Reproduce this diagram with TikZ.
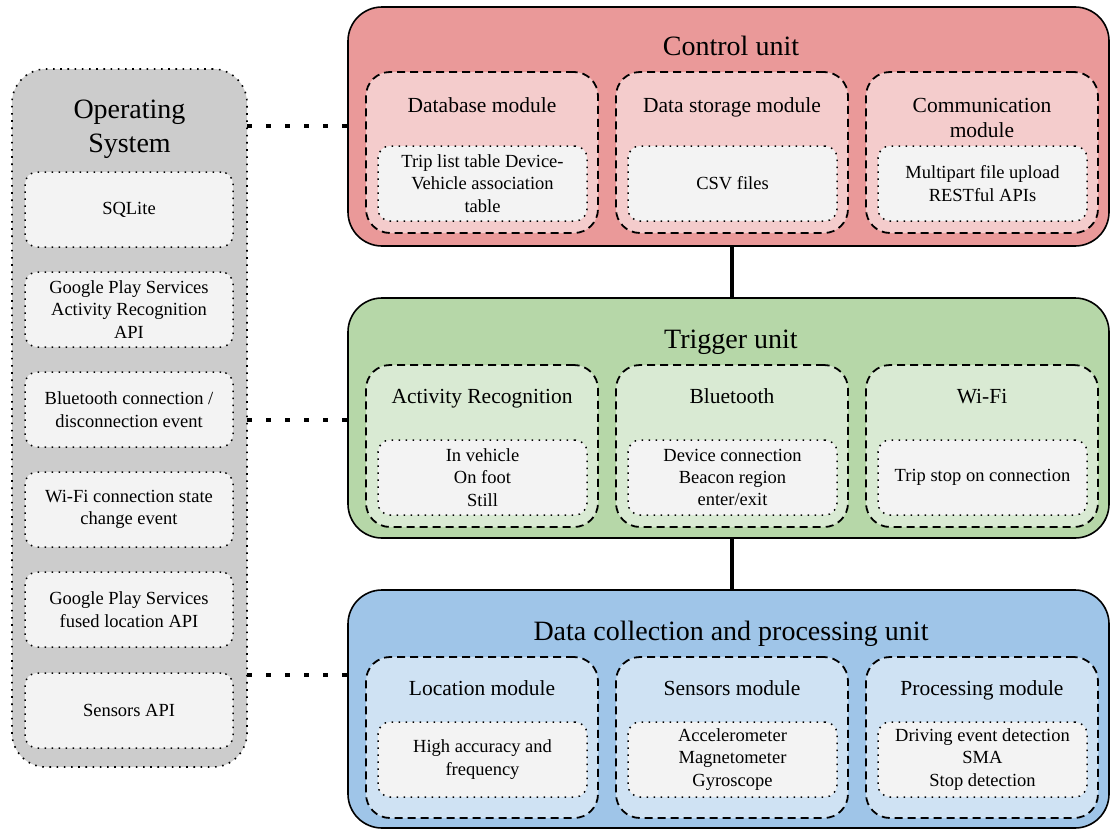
\documentclass[tikz,border=0pt]{standalone}
\usepackage{fontspec}
\setmainfont{Liberation Serif}
\definecolor{ctrlfill}{HTML}{EA9999}
\definecolor{ctrlmod}{HTML}{F4CCCC}
\definecolor{trigfill}{HTML}{B6D7A8}
\definecolor{trigmod}{HTML}{D9EAD3}
\definecolor{datafill}{HTML}{9FC5E8}
\definecolor{datamod}{HTML}{CFE2F3}
\definecolor{osfill}{HTML}{CCCCCC}
\definecolor{itemfill}{HTML}{F3F3F3}
\tikzset{
  box/.style={rectangle, inner sep=0pt, outer sep=0pt, anchor=north west},
  wh/.style 2 args={minimum width=#1pt, minimum height=#2pt},
  unitbox/.style={box, draw=black, line width=1.6pt, rounded corners=34pt},
  osbox/.style={box, draw=black, fill=osfill, line width=1.6pt,
    dash pattern=on 1.6pt off 5.6pt, rounded corners=34pt},
  modbox/.style={box, draw=black, line width=1.8pt,
    dash pattern=on 8pt off 5pt, rounded corners=24pt},
  itembox/.style={box, draw=black, fill=itemfill, line width=1.5pt,
    dash pattern=on 1.5pt off 5.5pt, rounded corners=12pt},
  unittitle/.style={inner sep=0pt, anchor=base, align=center,
    font=\fontsize{28}{34}\selectfont},
  modtitle/.style={inner sep=0pt, anchor=base, align=center,
    font=\fontsize{21.5}{25}\selectfont},
  itemtext/.style={inner sep=0pt, align=center,
    font=\fontsize{18.5}{22.4}\selectfont},
  vlink/.style={draw=black, line width=4pt},
  dotlink/.style={draw=black, line width=4.5pt, dash pattern=on 4.5pt off 14.5pt},
}
\begin{document}
\begin{tikzpicture}[x=1pt, y=-1pt]
\useasboundingbox (0,0) rectangle (1111,830);

% ---------- Operating system column ----------
% (a multi-line node's base anchor sits on its last line)
\node[osbox, wh={235}{698}] (os) at (12,69) {};
\node[unittitle] (ost) at (129.5,152) {Operating\\System};
\node[itembox, wh={208}{75}] (sql) at (25,172) {};
\node[itemtext] (sqlt) at (sql.center) {SQLite};
\node[itembox, wh={208}{75}] (gar) at (25,272) {};
\node[itemtext] (gart) at (gar.center) {Google Play Services\\Activity Recognition\\API};
\node[itembox, wh={208}{75}] (btev) at (25,372) {};
\node[itemtext] (btevt) at (btev.center) {Bluetooth connection /\\disconnection event};
\node[itembox, wh={208}{75}] (wfev) at (25,472) {};
\node[itemtext] (wfevt) at (wfev.center) {Wi-Fi connection state\\change event};
\node[itembox, wh={208}{75}] (gfl) at (25,572) {};
\node[itemtext] (gflt) at (gfl.center) {Google Play Services\\fused location API};
\node[itembox, wh={208}{75}] (sapi) at (25,673) {};
\node[itemtext] (sapit) at (sapi.center) {Sensors API};

% ---------- Control unit ----------
\node[unitbox, fill=ctrlfill, wh={761}{239}] (cu) at (348,7) {};
\node[unittitle] (cut) at (731,55) {Control unit};
\node[modbox, fill=ctrlmod, wh={232}{161}] (db) at (366,72) {};
\node[modtitle] (dbt) at (482,112) {Database module};
\node[itembox, wh={209}{75}] (dbi) at (378,146) {};
\node[itemtext] (dbit) at (dbi.center) {Trip list table Device-\\Vehicle association\\table};
\node[modbox, fill=ctrlmod, wh={232}{161}] (ds) at (616,72) {};
\node[modtitle] (dst) at (732,112) {Data storage module};
\node[itembox, wh={209}{75}] (dsi) at (628,146) {};
\node[itemtext] (dsit) at (dsi.center) {CSV files};
\node[modbox, fill=ctrlmod, wh={232}{161}] (cm) at (866,72) {};
\node[modtitle] (cmt) at (982,137) {Communication\\module};
\node[itembox, wh={209}{75}] (cmi) at (878,146) {};
\node[itemtext] (cmit) at (cmi.center) {Multipart file upload\\RESTful APIs};

% ---------- Trigger unit ----------
\node[unitbox, fill=trigfill, wh={761}{240}] (tu) at (348,298) {};
\node[unittitle] (tut) at (731,348) {Trigger unit};
\node[modbox, fill=trigmod, wh={232}{162}] (ar) at (366,365) {};
\node[modtitle] (art) at (482,403) {Activity Recognition};
\node[itembox, wh={209}{75}] (ari) at (378,440) {};
\node[itemtext] (arit) at (ari.center) {In vehicle\\On foot\\Still};
\node[modbox, fill=trigmod, wh={232}{162}] (bt) at (616,365) {};
\node[modtitle] (btt) at (732,403) {Bluetooth};
\node[itembox, wh={209}{75}] (bti) at (628,440) {};
\node[itemtext] (btit) at (bti.center) {Device connection\\Beacon region\\enter/exit};
\node[modbox, fill=trigmod, wh={232}{162}] (wf) at (866,365) {};
\node[modtitle] (wft) at (982,403) {Wi-Fi};
\node[itembox, wh={209}{75}] (wfi) at (878,440) {};
\node[itemtext] (wfit) at (wfi.center) {Trip stop on connection};

% ---------- Data collection and processing unit ----------
\node[unitbox, fill=datafill, wh={761}{238}] (dc) at (348,590) {};
\node[unittitle] (dct) at (731,640) {Data collection and processing unit};
\node[modbox, fill=datamod, wh={232}{161}] (lm) at (366,657) {};
\node[modtitle] (lmt) at (482,695) {Location module};
\node[itembox, wh={209}{75}] (lmi) at (378,722) {};
\node[itemtext] (lmit) at (lmi.center) {High accuracy and\\frequency};
\node[modbox, fill=datamod, wh={232}{161}] (sm) at (616,657) {};
\node[modtitle] (smt) at (732,695) {Sensors module};
\node[itembox, wh={209}{75}] (smi) at (628,722) {};
\node[itemtext] (smit) at (smi.center) {Accelerometer\\Magnetometer\\Gyroscope};
\node[modbox, fill=datamod, wh={232}{161}] (pm) at (866,657) {};
\node[modtitle] (pmt) at (982,695) {Processing module};
\node[itembox, wh={209}{75}] (pmi) at (878,722) {};
\node[itemtext] (pmit) at (pmi.center) {Driving event detection\\SMA\\Stop detection};

% ---------- Links between units ----------
\draw[vlink] (ds |- cu.south) -- (ds |- tu.north);
\draw[vlink] (bt |- tu.south) -- (bt |- dc.north);

% ---------- Links from the operating system ----------
\coordinate (cujoin) at (348,126);
\coordinate (tujoin) at (348,420);
\coordinate (dcjoin) at (348,675);
\draw[dotlink] (os.east |- cujoin) -- (cu.west |- cujoin);
\draw[dotlink] (os.east |- tujoin) -- (tu.west |- tujoin);
\draw[dotlink] (os.east |- dcjoin) -- (dc.west |- dcjoin);
\end{tikzpicture}
\end{document}
